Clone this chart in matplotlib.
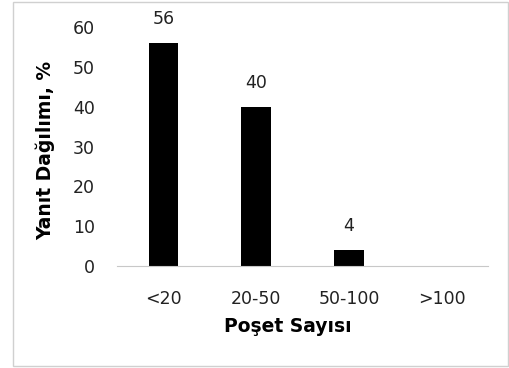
import matplotlib
matplotlib.use('Agg')
import matplotlib.pyplot as plt
from matplotlib.patches import Rectangle

categories = ['<20', '20-50', '50-100', '>100']
values = [56, 40, 4, 0]
value_labels = ['56', '40', '4', '']
yticks = [0, 10, 20, 30, 40, 50, 60]

plt.rcParams['font.family'] = ['DejaVu Sans']

fig = plt.figure(figsize=(5.09, 3.68), dpi=100)
ax = fig.add_axes([117/509, 1-266/368, (488-117)/509, (266-27)/368])

x = range(len(categories))
bars = ax.bar(x, values, width=0.32, color='black')
for xi, v, lab in zip(x, values, value_labels):
    if lab:
        ax.text(xi, v + 6, lab, ha='center', va='center', fontsize=12.5, color='#222222')

ax.set_xlim(-0.5, len(categories) - 0.5)
ax.set_ylim(0, 60)
ax.set_yticks(yticks)
ax.set_xticks(list(x))
ax.set_xticklabels(categories)
ax.tick_params(length=0, labelsize=12.5, colors='#222222')
ax.tick_params(axis='y', pad=16)
ax.tick_params(axis='x', pad=17)

for s in ['top', 'right', 'left']:
    ax.spines[s].set_visible(False)
ax.spines['bottom'].set_color('#c8c8c8')

ax.set_xlabel('Poşet Sayısı', fontsize=13.5, fontweight='bold')
ax.set_ylabel('Yanıt Dağılımı, %', fontsize=13.5, fontweight='bold')
# label positions (axes fraction)
ax.xaxis.set_label_coords((288 - 117) / 371, -(327 - 266) / 239)
ax.yaxis.set_label_coords(-(117 - 45) / 371, (266 - 150) / 239)
ax.xaxis.label.set_va('center')
ax.yaxis.label.set_va('center')

fig.patches.append(Rectangle((13/509, 2/368), 495/509, 364/368, transform=fig.transFigure,
                             fill=False, edgecolor='#d0d0d0', linewidth=1))

fig.savefig('out.png', dpi=100)
